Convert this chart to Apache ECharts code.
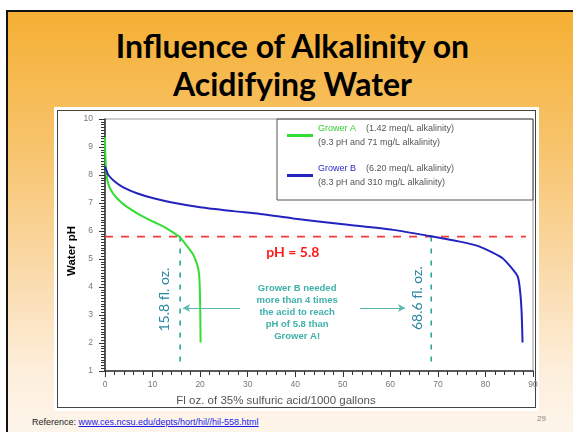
<!DOCTYPE html>
<html>
<head>
<meta charset="utf-8">
<script src="https://cdn.jsdelivr.net/npm/echarts@6/dist/echarts.min.js"></script>
<style>
  html, body { margin: 0; padding: 0; }
  body { width: 573px; height: 432px; position: relative; overflow: hidden; background: #fff; }
  #slide {
    position: absolute; left: 6px; top: 10px; width: 567px; height: 422px;
    border-left: 2px solid #111; border-top: 2px solid #111; box-sizing: border-box;
    background: linear-gradient(to bottom, #f5b034 0%, #f7c268 30%, #fad9a6 60%, #fdeedb 85%, #fdf5ea 100%);
  }
  #title {
    position: absolute; left: 0; top: 27px; width: 585px; text-align: center;
    font: bold 32px Lato, "Open Sans", sans-serif; line-height: 38px; color: #000;
  }
  #imgbox { position: absolute; left: 54px; top: 107px; width: 485px; height: 304px; background: #fff; }
  #frame { position: absolute; left: 57px; top: 110px; width: 479px; height: 298px; border: 1.5px solid #444; box-sizing: border-box; }
  #ref { position: absolute; left: 32px; top: 417px; font: 9px "Liberation Sans", Arial, sans-serif; color: #222; }
  #ref a { color: #1a1aee; text-decoration: underline; }
  #page { position: absolute; left: 537px; top: 414px; font: 8px "Liberation Sans", Arial, sans-serif; color: #888; }
  #chart { position: absolute; left: 0; top: 0; width: 573px; height: 432px; }
</style>
</head>
<body>
<div id="slide"></div>
<div id="title">Influence of Alkalinity on<br>Acidifying Water</div>
<div id="imgbox"></div>
<div id="frame"></div>
<div id="ref">Reference: <a>www.ces.ncsu.edu/depts/hort/hil//hil-558.html</a></div>
<div id="page">29</div>
<div id="chart"></div>
<script>
// titration curves (fl oz per 1000 gal, water pH)
const growerAX = [0, 0.05, 0.2, 0.5, 1.05, 2.5, 4.55, 7.4, 10.2, 12.6, 14.4, 15.6, 16.8, 17.9, 18.6, 19.4, 19.8, 20.0, 20.1];
const growerAPh = [9.35, 8.8, 8.3, 7.82, 7.52, 7.17, 6.87, 6.57, 6.33, 6.13, 5.94, 5.8, 5.56, 5.32, 5.14, 4.79, 4.43, 3.48, 2.02];
const growerBX = [0, 0.2, 0.7, 2.1, 3.85, 6.7, 10.2, 14.4, 20, 27, 32.6, 39.6, 50.1, 60.6, 68.3, 74.6, 78.5, 81.4, 83.6, 85.4, 86.8, 87.3, 87.6, 87.8];
const growerBPh = [8.3, 8.2, 8.0, 7.76, 7.56, 7.35, 7.17, 7.01, 6.85, 6.71, 6.61, 6.45, 6.24, 6.04, 5.82, 5.62, 5.46, 5.24, 5.03, 4.7, 4.37, 3.83, 3.12, 2.02];

const seriesNames = ["Grower A", "Grower B"];
const legendNotes = [
  ["(1.42 meq/L alkalinity)", "(9.3 pH and 71 mg/L alkalinity)"],
  ["(6.20 meq/L alkalinity)", "(8.3 pH and 310 mg/L alkalinity)"]
];

const targetPh = 5.8;
const targetLineX = [0, 88.5];
const doseA = 15.8;
const doseB = 68.6;
const doseLineBottom = 1.3;
const arrowPh = 3.25;
const arrowLeft = [28.4, 16.4];
const arrowRight = [53.6, 63.1];

const xTicks = [0, 10, 20, 30, 40, 50, 60, 70, 80, 90];
const yTicks = [1, 2, 3, 4, 5, 6, 7, 8, 9, 10];

const xAxisTitle = "Fl oz. of 35% sulfuric acid/1000 gallons";
const yAxisTitle = "Water pH";

// annotation texts: [x, pH, text]
const targetNote = [39.5, 5.25, "pH = 5.8"];
const doseNoteA = [12.6, 3.55, "15.8 fl. oz."];
const doseNoteB = [65.8, 3.6, "68.6 fl. oz."];
const compareNote = [40.4, 3.1, "Grower B needed\nmore than 4 times\nthe acid to reach\npH of 5.8 than\nGrower A!"];

const teal = "#2aa596";
const chart = echarts.init(document.getElementById("chart"));

function pairs(xs, ys) {
  return xs.map((x, i) => [x, ys[i]]);
}

const axisFont = "Liberation Sans";

chart.setOption({
  backgroundColor: "transparent",
  animation: false,
  grid: {
    left: 105,
    right: 40,
    top: 119,
    bottom: 61,
    show: true,
    borderColor: "#999",
    borderWidth: 1
  },
  legend: {
    data: seriesNames,
    orient: "vertical",
    left: 277,
    top: 119,
    itemWidth: 26,
    itemHeight: 3,
    icon: "rect",
    itemGap: 17,
    padding: [5, 79, 13, 10],
    borderColor: "#555",
    borderWidth: 1,
    selectedMode: false,
    formatter: (name) => {
      const i = seriesNames.indexOf(name);
      const key = i === 0 ? "a" : "b";
      return `{${key}|${name}}{s|    ${legendNotes[i][0]}}\n{s|${legendNotes[i][1]}}`;
    },
    textStyle: {
      rich: {
        a: { color: "#33cc33", fontSize: 9, fontFamily: axisFont, lineHeight: 14 },
        b: { color: "#2a2acc", fontSize: 9, fontFamily: axisFont, lineHeight: 14 },
        s: { color: "#555", fontSize: 9, fontFamily: axisFont, lineHeight: 14 }
      }
    }
  },
  xAxis: {
    type: "value",
    min: xTicks[0],
    max: xTicks[xTicks.length - 1],
    interval: 10,
    name: xAxisTitle,
    nameLocation: "middle",
    nameGap: 24,
    nameMoveOverlap: false,
    nameTextStyle: { color: "#555", fontSize: 11.5, fontFamily: axisFont, padding: [0, 86, 0, 0] },
    axisLine: { lineStyle: { color: "#333", width: 1.5 } },
    axisTick: { length: 6, lineStyle: { color: "#333" } },
    minorTick: { show: true, splitNumber: 5, length: 4, lineStyle: { color: "#333" } },
    axisLabel: { color: "#777", fontSize: 8.5, fontFamily: axisFont, margin: 9 },
    splitLine: { show: false }
  },
  yAxis: {
    type: "value",
    min: yTicks[0],
    max: yTicks[yTicks.length - 1],
    interval: 1,
    name: yAxisTitle,
    nameLocation: "middle",
    nameRotate: 90,
    nameGap: 27,
    nameMoveOverlap: false,
    nameTextStyle: { color: "#000", fontSize: 11.5, fontWeight: "bold", fontFamily: axisFont, padding: [0, 12, 0, 0] },
    axisLine: { lineStyle: { color: "#333", width: 1.5 } },
    axisTick: { length: 6, lineStyle: { color: "#333" } },
    minorTick: { show: true, splitNumber: 10, length: 4, lineStyle: { color: "#333" } },
    axisLabel: { color: "#777", fontSize: 8.5, fontFamily: axisFont, margin: 12 },
    splitLine: { show: false }
  },
  series: [
    {
      name: seriesNames[0],
      type: "line",
      data: pairs(growerAX, growerAPh),
      showSymbol: false,
      smooth: 0.25,
      color: "#33dd33",
      lineStyle: { width: 2, color: "#33dd33" },
      z: 4
    },
    {
      name: seriesNames[1],
      type: "line",
      data: pairs(growerBX, growerBPh),
      showSymbol: false,
      smooth: 0.25,
      color: "#2323c0",
      lineStyle: { width: 2, color: "#2323c0" },
      z: 4
    },
    {
      name: "target",
      type: "line",
      data: targetLineX.map((x) => [x, targetPh]),
      showSymbol: false,
      silent: true,
      lineStyle: { color: "#ee3b3b", width: 1.6, type: [8, 8] },
      z: 3
    },
    {
      name: "doseA",
      type: "line",
      data: [[doseA, targetPh], [doseA, doseLineBottom]],
      showSymbol: false,
      silent: true,
      lineStyle: { color: teal, width: 1.6, type: [5, 7] },
      z: 3
    },
    {
      name: "doseB",
      type: "line",
      data: [[doseB, targetPh], [doseB, doseLineBottom]],
      showSymbol: false,
      silent: true,
      lineStyle: { color: teal, width: 1.6, type: [5, 7] },
      z: 3
    },
    {
      name: "arrows",
      type: "line",
      data: [],
      markLine: {
        silent: true,
        symbol: ["none", "arrow"],
        symbolSize: [6, 7],
        label: { show: false },
        lineStyle: { color: "#5bb8b0", width: 1, type: "solid" },
        data: [
          [{ coord: [arrowLeft[0], arrowPh] }, { coord: [arrowLeft[1], arrowPh] }],
          [{ coord: [arrowRight[0], arrowPh] }, { coord: [arrowRight[1], arrowPh] }]
        ]
      }
    }
  ]
});

function notePos(note) {
  return chart.convertToPixel({ gridIndex: 0 }, [note[0], note[1]]);
}

const pTarget = notePos(targetNote);
const pA = notePos(doseNoteA);
const pB = notePos(doseNoteB);
const pCompare = notePos(compareNote);

chart.setOption({
  graphic: [
    {
      type: "text", x: pTarget[0], y: pTarget[1], z: 10,
      style: { text: targetNote[2], fill: "#ff1a1a", font: "bold 14px Lato, 'Open Sans', sans-serif", align: "center", verticalAlign: "middle" }
    },
    {
      type: "text", x: pA[0], y: pA[1], rotation: Math.PI / 2, z: 10,
      style: { text: doseNoteA[2], fill: "#2b86a3", font: "14px Lato, 'Open Sans', sans-serif", align: "center", verticalAlign: "middle" }
    },
    {
      type: "text", x: pB[0], y: pB[1], rotation: Math.PI / 2, z: 10,
      style: { text: doseNoteB[2], fill: "#2b86a3", font: "14px Lato, 'Open Sans', sans-serif", align: "center", verticalAlign: "middle" }
    },
    {
      type: "text", x: pCompare[0], y: pCompare[1], z: 10,
      style: { text: compareNote[2], fill: "#3fb0aa", font: "bold 9.5px 'Liberation Sans', Arial, sans-serif", lineHeight: 12, align: "center", verticalAlign: "middle" }
    }
  ]
});
</script>
</body>
</html>
